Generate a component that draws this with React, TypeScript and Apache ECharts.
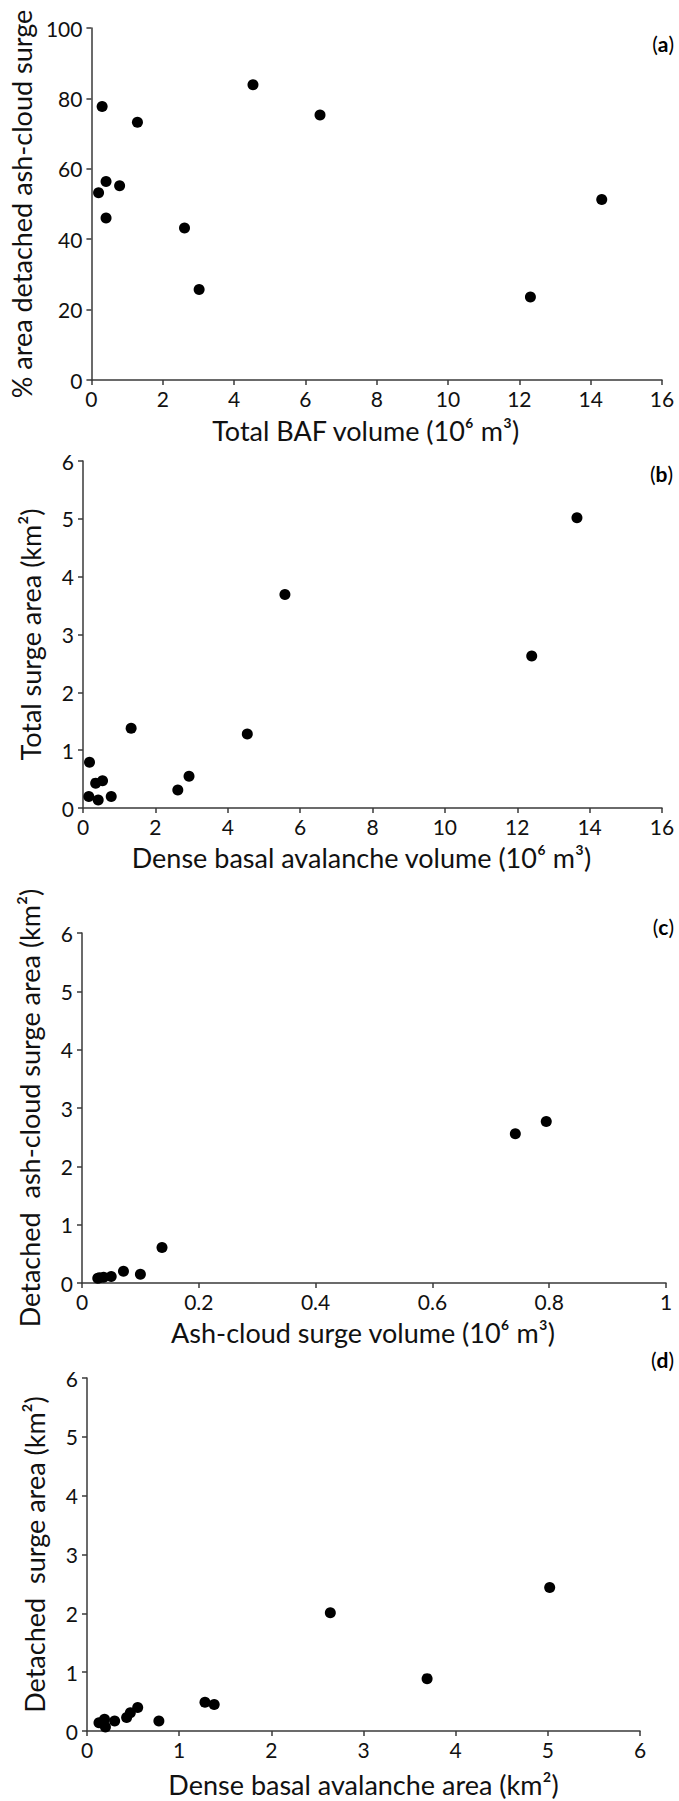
import React, { useEffect, useRef } from "react";
import * as echarts from "echarts";

// Panel (a): total BAF volume (10^6 m3) vs % area detached ash-cloud surge
const aX = [0.3, 1.29, 4.53, 6.41, 0.41, 0.79, 0.2, 0.41, 2.61, 3.02, 12.31, 14.31];
const aY = [77.7, 73.2, 83.9, 75.3, 56.4, 55.2, 53.2, 46.0, 43.2, 25.7, 23.6, 51.3];

// Panel (b): dense basal avalanche volume vs total surge area
const bX = [13.65, 5.58, 12.4, 1.33, 4.54, 0.18, 2.93, 0.54, 0.35, 2.62, 0.16, 0.78, 0.42];
const bY = [5.02, 3.69, 2.63, 1.38, 1.28, 0.79, 0.55, 0.47, 0.43, 0.31, 0.2, 0.2, 0.14];

// Panel (c): ash-cloud surge volume vs detached ash-cloud surge area
const cX = [0.795, 0.742, 0.137, 0.071, 0.1, 0.05, 0.037, 0.027, 0.03];
const cY = [2.77, 2.56, 0.61, 0.2, 0.15, 0.11, 0.1, 0.08, 0.09];

// Panel (d): dense basal avalanche area vs detached surge area
const dX = [5.02, 2.64, 3.69, 1.28, 1.38, 0.78, 0.55, 0.47, 0.43, 0.3, 0.19, 0.13, 0.2];
const dY = [2.44, 2.01, 0.89, 0.49, 0.45, 0.17, 0.4, 0.31, 0.23, 0.17, 0.2, 0.14, 0.07];

const panelLetters = ["a", "b", "c", "d"];
const xTitles = [
  "Total BAF volume (10\u2076 m\u00B3)",
  "Dense basal avalanche volume (10\u2076 m\u00B3)",
  "Ash-cloud surge volume (10\u2076 m\u00B3)",
  "Dense basal avalanche area (km\u00B2)",
];
const yTitles = [
  "% area detached ash-cloud surge",
  "Total surge area (km\u00B2)",
  "Detached  ash-cloud surge area (km\u00B2)",
  "Detached  surge area (km\u00B2)",
];
const xRanges = [
  [0, 16, 2],
  [0, 16, 2],
  [0, 1, 0.2],
  [0, 6, 1],
];
const yRanges = [
  [0, 100, 20],
  [0, 6, 1],
  [0, 6, 1],
  [0, 6, 1],
];

const FONT = "Lato, 'Open Sans', sans-serif";

export default function App() {
  const ref = useRef<HTMLDivElement>(null);
  useEffect(() => {
    document.body.style.margin = "0";
    if (!ref.current) return;
    const chart = echarts.init(ref.current, undefined, { renderer: "svg" });

    const grids = [
      { left: 83, top: 28, width: 579, height: 352 },
      { left: 83, top: 461, width: 579, height: 347 },
      { left: 82, top: 933, width: 584, height: 350 },
      { left: 87, top: 1378, width: 553, height: 353 },
    ];
    const xPad = [22, 22, 22, 0];
    const xGap = [37, 36, 36, 40];
    const xData = [aX, bX, cX, dX];
    const yData = [aY, bY, cY, dY];
    const labelPos = [
      [674, 43],
      [673, 473],
      [674, 926],
      [674, 1359],
    ];

    const axisLine = { show: true, lineStyle: { color: "#3a3a3a", width: 1.5 } };
    const axisTick = { show: true, length: 5, lineStyle: { color: "#3a3a3a", width: 1.5 } };
    const axisLabel = { color: "#111", fontSize: 21, fontFamily: FONT };

    const option: any = {
      animation: false,
      backgroundColor: "#ffffff",
      grid: grids.map((g) => ({ ...g, containLabel: false })),
      xAxis: grids.map((_, i) => ({
        type: "value",
        gridIndex: i,
        min: xRanges[i][0],
        max: xRanges[i][1],
        interval: xRanges[i][2],
        axisLine,
        axisTick,
        splitLine: { show: false },
        axisLabel: { ...axisLabel, margin: 8 },
        name: xTitles[i],
        nameLocation: "middle",
        nameGap: xGap[i],
        nameTextStyle: {
          color: "#111",
          fontSize: 27,
          fontFamily: FONT,
          padding: [0, xPad[i], 0, 0],
        },
      })),
      yAxis: grids.map((_, i) => ({
        type: "value",
        gridIndex: i,
        min: yRanges[i][0],
        max: yRanges[i][1],
        interval: yRanges[i][2],
        axisLine,
        axisTick,
        splitLine: { show: false },
        axisLabel: { ...axisLabel, margin: 9 },
        name: yTitles[i],
        nameLocation: "middle",
        nameGap: 39,
        nameTextStyle: { color: "#111", fontSize: 27, fontFamily: FONT },
      })),
      series: grids.map((_, i) => ({
        type: "scatter",
        xAxisIndex: i,
        yAxisIndex: i,
        symbol: "circle",
        symbolSize: 11,
        itemStyle: { color: "#000", opacity: 1 },
        data: xData[i].map((x, k) => [x, yData[i][k]]),
      })),
      graphic: panelLetters.map((l, i) => ({
        type: "text",
        x: labelPos[i][0],
        y: labelPos[i][1],
        style: {
          text: "{n|(}{b|" + l + "}{n|)}",
          align: "right",
          verticalAlign: "middle",
          rich: {
            n: { fontSize: 21, fontFamily: FONT, fill: "#000", fontWeight: "normal" },
            b: { fontSize: 21, fontFamily: FONT, fill: "#000", fontWeight: "bold" },
          },
        },
      })),
    };
    chart.setOption(option);
    return () => chart.dispose();
  }, []);
  return <div ref={ref} style={{ width: 679, height: 1801 }} />;
}
